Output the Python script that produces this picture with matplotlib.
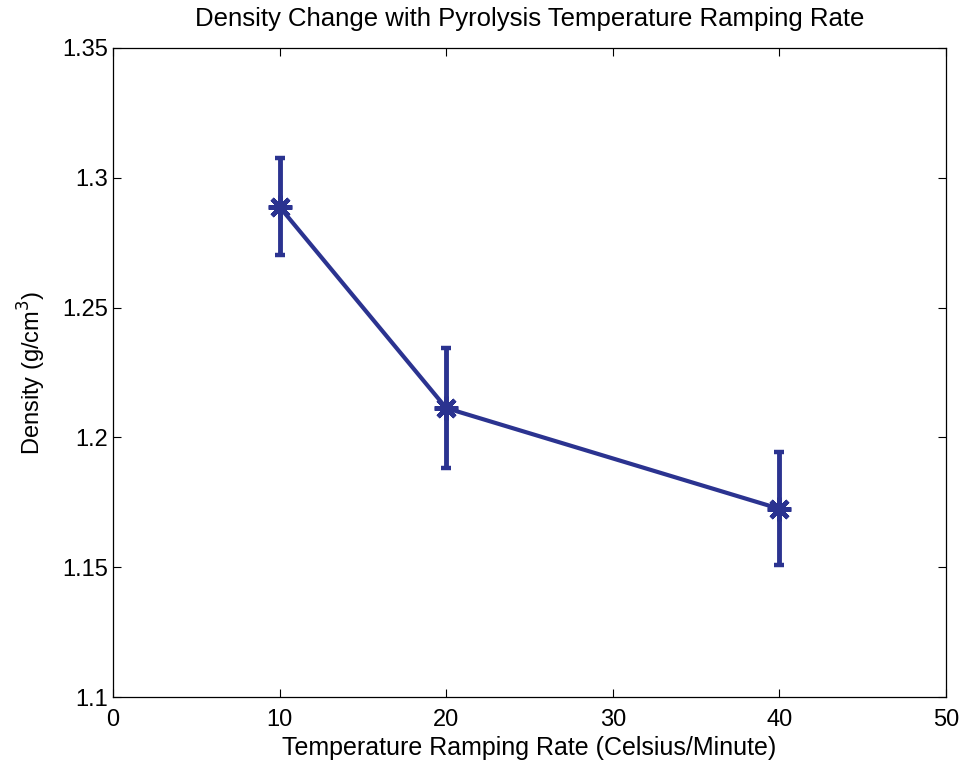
import matplotlib
matplotlib.use("Agg")
import matplotlib.pyplot as plt
from matplotlib import font_manager

rates = [10, 20, 40]
density = [1.2888, 1.2113, 1.1725]
errors = [0.0187, 0.023, 0.0218]
xticks = [0, 10, 20, 30, 40, 50]
yticks = [1.1, 1.15, 1.2, 1.25, 1.3, 1.35]

names = {f.name for f in font_manager.fontManager.ttflist}
fam = ['Liberation Sans Narrow'] if 'Liberation Sans Narrow' in names else ['Liberation Sans']
plt.rcParams['font.family'] = fam + ['DejaVu Sans']

color = '#2b3390'
fig = plt.figure(figsize=(9.65, 7.63), dpi=100)
ax = fig.add_axes([113/965, 66/763, 833/965, 649/763])
ax.errorbar(rates, density, yerr=errors, color=color, lw=3, elinewidth=3.5,
            capsize=3.5, capthick=3.5, marker=(8, 2, 0), markersize=17, mew=3.2)
ax.set_xlim(0, 50)
ax.set_ylim(1.1, 1.35)
ax.set_xticks(xticks)
ax.set_yticks(yticks)
ax.set_yticklabels([f"{v:g}" for v in yticks])
ax.tick_params(direction='in', length=6, labelsize=17, top=True, right=True,
               labeltop=False, labelright=False, width=0.8)
ax.tick_params(axis='x', pad=9)
for s in ax.spines.values():
    s.set_linewidth(0.9)
ax.set_xlabel('Temperature Ramping Rate (Celsius/Minute)', fontsize=18, labelpad=3)
ax.set_ylabel('Density (g/cm$^3$)', fontsize=17, labelpad=10)
ax.set_title('Density Change with Pyrolysis Temperature Ramping Rate', fontsize=18.5, pad=16)
fig.savefig('out.png', dpi=100)
